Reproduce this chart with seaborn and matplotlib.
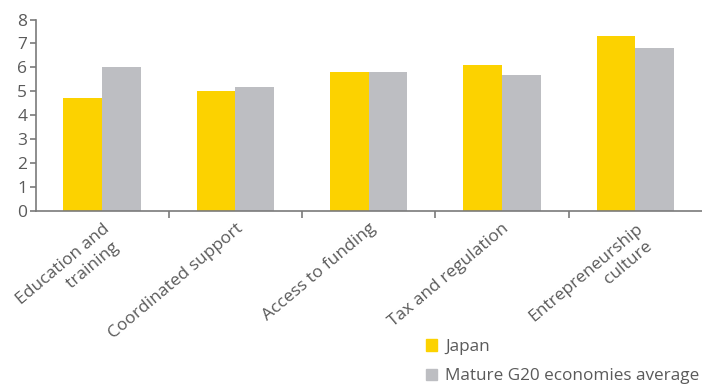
import matplotlib
matplotlib.use("Agg")
import matplotlib.pyplot as plt
from matplotlib.ticker import FixedLocator
import pandas as pd
import seaborn as sns

categories = ["Education and\ntraining ", "Coordinated support", "Access to funding",
              "Tax and regulation", "Entrepreneurship\nculture "]
japan = [4.7, 5.0, 5.8, 6.1, 7.3]
mature_g20 = [6.0, 5.2, 5.8, 5.7, 6.8]
series = ["Japan", "Mature G20 economies average"]
colors = ["#FCD200", "#BDBEC2"]

df = pd.DataFrame({
    "category": categories * 2,
    "value": japan + mature_g20,
    "series": [series[0]] * len(categories) + [series[1]] * len(categories),
})

sns.set_theme(style="white")
plt.rcParams["font.family"] = ["Open Sans", "DejaVu Sans"]
text_color = "#5a5a5a"
axis_color = "#7a7a7a"

fig = plt.figure(figsize=(7.02, 3.85), dpi=100)
ax = fig.add_axes([35.5 / 702, 1 - 211 / 385, 1 - 35.5 / 702, (211 - 19.5) / 385])

sns.barplot(data=df, x="category", y="value", hue="series", palette=colors,
            width=0.58, gap=0, saturation=1, linewidth=0, edgecolor="none",
            ax=ax, legend=False)

ax.set_xlim(-0.5, len(categories) - 0.5)
ax.set_ylim(0, 8)
ax.set_yticks(range(0, 9))
ax.set_xlabel("")
ax.set_ylabel("")

for side in ("top", "right"):
    ax.spines[side].set_visible(False)
for side in ("left", "bottom"):
    ax.spines[side].set_color(axis_color)
    ax.spines[side].set_linewidth(1.2)

# category labels at centres, tick marks on the boundaries between groups
ax.xaxis.set_minor_locator(FixedLocator([i + 0.5 for i in range(len(categories) - 1)]))
ax.tick_params(axis="x", which="major", length=0, pad=7)
ax.tick_params(axis="x", which="minor", bottom=True, length=5, width=1.2, color=axis_color)
ax.tick_params(axis="y", left=True, length=4, width=1.2, color=axis_color,
               labelsize=12.5, labelcolor=text_color, pad=2)
ax.set_xticks(range(len(categories)))
labels = ax.set_xticklabels(categories, rotation=40, ha="right", rotation_mode="anchor",
                            fontsize=12.5, color=text_color, linespacing=1.35)
for lab in labels:
    lab.set_multialignment("right")

handles = [plt.Rectangle((0, 0), 1, 1, color=c) for c in colors]
fig.legend(handles, series, loc="upper left", bbox_to_anchor=(426 / 702, 1 - 339 / 385),
           frameon=False, fontsize=12.3, labelcolor=text_color, handlelength=0.62,
           handleheight=0.62, handletextpad=0.5, labelspacing=0.78, borderaxespad=0,
           borderpad=0)

fig.savefig("out.png", dpi=100)
